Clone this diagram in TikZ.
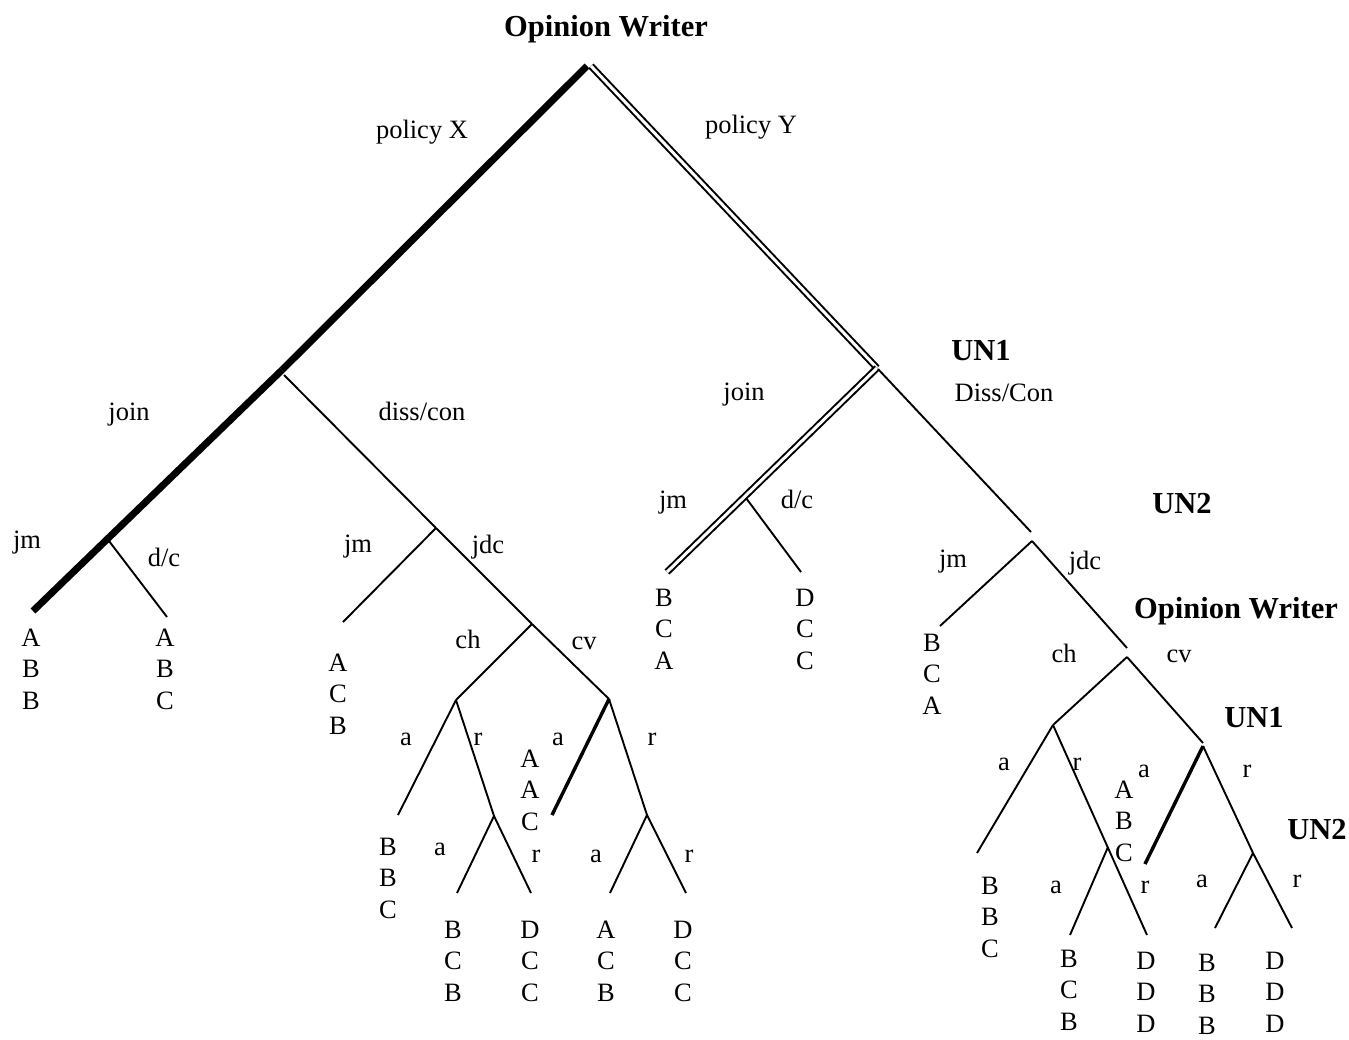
\documentclass[tikz,border=0pt]{standalone}
\usepackage{fontspec}
\setmainfont{Liberation Serif}
\tikzset{
  lbl/.style={anchor=base,inner sep=0pt,font=\fontsize{26.5}{32}\selectfont},
  hdr/.style={anchor=base,inner sep=0pt,font=\fontsize{30.5}{36}\selectfont\bfseries},
  edge/.style={line width=1.9pt},
  heavy/.style={line width=7pt},
  medium/.style={line width=3.4pt},
  twin/.style={double,line width=2pt,double distance=3pt},
}
% three stacked outcome letters below a leaf
\newcommand\outcome[6]{%
  \node[lbl] (#1a) at (#2,#3) {#4};
  \node[lbl] (#1b) at (#2,#3+31.6) {#5};
  \node[lbl] (#1c) at (#2,#3+63.2) {#6};}
\begin{document}
\begin{tikzpicture}[x=1pt,y=-1pt]
\useasboundingbox (0,0) rectangle (1349,1039);

% ---------- branch points ----------
\coordinate (topL) at (587,66);
\coordinate (topR) at (591,66);
\coordinate (xj) at (282,370);
\coordinate (xd) at (284,375);
\coordinate (xjm) at (109,541);
\coordinate (xjmL) at (33,611);
\coordinate (xdcL) at (167,617);
\coordinate (xd2) at (436,528);
\coordinate (xd2jm) at (343,622);
\coordinate (xoc) at (532,624);
\coordinate (xch) at (456,700);
\coordinate (xcv) at (609,699);
\coordinate (xcha) at (398,815);
\coordinate (xchr) at (494,816);
\coordinate (xchra) at (457,893);
\coordinate (xchrr) at (531,893);
\coordinate (xcva) at (552,815);
\coordinate (xcvr) at (647,815);
\coordinate (xcvra) at (610,893);
\coordinate (xcvrr) at (686,893);

\coordinate (yun) at (877,368);
\coordinate (yd) at (878,369);
\coordinate (yjm) at (746,498);
\coordinate (yjmL) at (667,572);
\coordinate (ydcL) at (801,572);
\coordinate (ydEnd) at (1031,532);
\coordinate (yun2) at (1032,541);
\coordinate (yjm2) at (940,626);
\coordinate (yjdcEnd) at (1127,648);
\coordinate (yow) at (1127,657);
\coordinate (ych) at (1053,725);
\coordinate (ycvEnd) at (1203,743);
\coordinate (yun1b) at (1203,746);
\coordinate (ycha) at (977,853);
\coordinate (ychr) at (1108,847);
\coordinate (ychrr) at (1147,935);
\coordinate (ychra) at (1070,935);
\coordinate (yuna) at (1145,864);
\coordinate (yun2b) at (1253,853);
\coordinate (yun2a) at (1215,928);
\coordinate (yun2r) at (1292,928);

% ---------- policy X side ----------
\draw[heavy] (topL) -- (xj);
\draw[heavy] (xj) -- (xjmL);
\draw[edge] (xjm) -- (xdcL);
\draw[edge] (xd) -- (xd2);
\draw[edge] (xd2) -- (xd2jm);
\draw[edge] (xd2) -- (xoc);
\draw[edge] (xoc) -- (xch);
\draw[edge] (xoc) -- (xcv);
\draw[edge] (xch) -- (xcha);
\draw[edge] (xch) -- (xchr);
\draw[edge] (xchr) -- (xchra);
\draw[edge] (xchr) -- (xchrr);
\draw[medium] (xcv) -- (xcva);
\draw[edge] (xcv) -- (xcvr);
\draw[edge] (xcvr) -- (xcvra);
\draw[edge] (xcvr) -- (xcvrr);

% ---------- policy Y side ----------
\draw[twin] (topR) -- (yun);
\draw[twin] (yun) -- (yjmL);
\draw[edge] (yjm) -- (ydcL);
\draw[edge] (yd) -- (ydEnd);
\draw[edge] (yun2) -- (yjm2);
\draw[edge] (yun2) -- (yjdcEnd);
\draw[edge] (yow) -- (ych);
\draw[edge] (yow) -- (ycvEnd);
\draw[edge] (ych) -- (ycha);
\draw[edge] (ych) -- (ychrr);
\draw[edge] (ychr) -- (ychra);
\draw[medium] (yun1b) -- (yuna);
\draw[edge] (yun1b) -- (yun2b);
\draw[edge] (yun2b) -- (yun2a);
\draw[edge] (yun2b) -- (yun2r);

% ---------- player labels ----------
\node[hdr] (ow1) at (606,36) {Opinion Writer};
\node[hdr] (un1) at (981,360) {UN1};
\node[hdr] (un2) at (1182,513) {UN2};
\node[hdr] (ow2) at (1236,618) {Opinion Writer};
\node[hdr] (un1b) at (1254,727) {UN1};
\node[hdr] (un2b) at (1317,839) {UN2};

% ---------- move labels ----------
\node[lbl] (lpx) at (422,138) {policy X};
\node[lbl] (lpy) at (751,133) {policy Y};
\node[lbl] (ljoin1) at (129,420) {join};
\node[lbl] (ldiss1) at (422,420) {diss/con};
\node[lbl] (ljoin2) at (744,400) {join};
\node[lbl] (ldiss2) at (1004,401) {Diss/Con};
\node[lbl] (ljm1) at (27,548) {jm};
\node[lbl] (ldc1) at (164,566) {d/c};
\node[lbl] (ljm2) at (358,552) {jm};
\node[lbl] (ljdc2) at (488,553) {jdc};
\node[lbl] (ljm3) at (673,508) {jm};
\node[lbl] (ldc3) at (797,508) {d/c};
\node[lbl] (ljm4) at (953,567) {jm};
\node[lbl] (ljdc4) at (1085,569) {jdc};
\node[lbl] (lch1) at (468,648) {ch};
\node[lbl] (lcv1) at (584,649) {cv};
\node[lbl] (lch2) at (1064,662) {ch};
\node[lbl] (lcv2) at (1179,662) {cv};
\node[lbl] (la1) at (406,745) {a};
\node[lbl] (lr1) at (478,745) {r};
\node[lbl] (la2) at (558,745) {a};
\node[lbl] (lr2) at (652,745) {r};
\node[lbl] (la3) at (440,855) {a};
\node[lbl] (lr3) at (536,862) {r};
\node[lbl] (la4) at (596,862) {a};
\node[lbl] (lr4) at (689,862) {r};
\node[lbl] (la5) at (1004,770) {a};
\node[lbl] (lr5) at (1077,770) {r};
\node[lbl] (la6) at (1144,777) {a};
\node[lbl] (lr6) at (1247,777) {r};
\node[lbl] (la7) at (1056,893) {a};
\node[lbl] (lr7) at (1145,893) {r};
\node[lbl] (la8) at (1202,887) {a};
\node[lbl] (lr8) at (1297,887) {r};

% ---------- outcomes ----------
\outcome{o1}{31}{646}{A}{B}{B}
\outcome{o2}{165}{646}{A}{B}{C}
\outcome{o3}{338}{671}{A}{C}{B}
\outcome{o4}{530}{767}{A}{A}{C}
\outcome{o5}{388}{855}{B}{B}{C}
\outcome{o6}{453}{938}{B}{C}{B}
\outcome{o7}{530}{938}{D}{C}{C}
\outcome{o8}{606}{938}{A}{C}{B}
\outcome{o9}{683}{938}{D}{C}{C}
\outcome{o10}{664}{606}{B}{C}{A}
\outcome{o11}{805}{606}{D}{C}{C}
\outcome{o12}{932}{651}{B}{C}{A}
\outcome{o13}{1124}{798}{A}{B}{C}
\outcome{o14}{990}{894}{B}{B}{C}
\outcome{o15}{1069}{967}{B}{C}{B}
\outcome{o16}{1146}{969}{D}{D}{D}
\outcome{o17}{1207}{971}{B}{B}{B}
\outcome{o18}{1275}{969}{D}{D}{D}
\end{tikzpicture}
\end{document}
